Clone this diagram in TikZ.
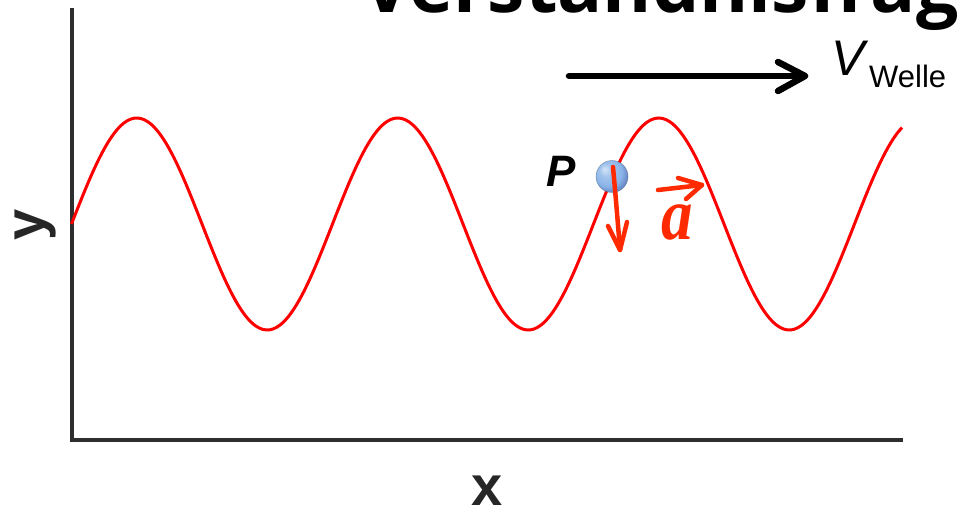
\documentclass[tikz,border=0pt]{standalone}
\usepackage{fontspec}
\setmainfont{Liberation Sans}
\newfontfamily\titlefont{Open Sans}
\newfontfamily\handfont{Liberation Serif}
\usetikzlibrary{calc}
\definecolor{axisgray}{HTML}{2E2E2E}
\definecolor{labelgray}{HTML}{262626}
\definecolor{handred}{HTML}{FF2A00}
\definecolor{balllight}{HTML}{8AB4E8}
\pgfdeclareradialshading{pball}{\pgfpoint{-12bp}{12bp}}{%
  color(0bp)=(balllight!35!white); color(10bp)=(balllight!80!white);
  color(22bp)=(balllight); color(32bp)=(balllight!85!blue!80!black);
  color(50bp)=(balllight!60!black)}
\tikzset{
  axisline/.style={draw=axisgray, line width=4pt},
  wave/.style={draw=red, line width=3pt},
  hand/.style={draw=handred, line width=4.5pt, line cap=round, line join=round},
  bigarrow/.style={draw=black, line width=6.5pt, line cap=round, line join=round},
  axislabel/.style={font=\fontsize{56}{56}\selectfont\bfseries, text=labelgray, inner sep=0pt},
}
\begin{document}
\begin{tikzpicture}[x=1pt, y=-1pt]
\useasboundingbox (0,0) rectangle (958,513);
% title, cut off at the top
\begin{scope}
  \clip (0,0) rectangle (958,513);
  \node[anchor=base west, inner sep=0pt, font=\titlefont\fontsize{75}{75}\selectfont\bfseries] (title) at (362,13) {Verständnisfrage};
\end{scope}
% axes
\coordinate (ytop) at (71.5,8);
\coordinate (origin) at (71.5,439.5);
\coordinate (xend) at (903,439.5);
\draw[axisline] (ytop) -- (origin) -- (xend);
\node[axislabel, anchor=base] (xlab) at (487,505) {x};
\node[axislabel, anchor=base, rotate=90] (ylab) at (44,225) {y};
% wave
\draw[wave] plot[domain=0:830.5, samples=240, smooth] ({\x+71.5}, {224-106*sin(1.37931*\x)});
% wave velocity
\coordinate (vs) at (569,76);
\coordinate (ve) at (805,76);
\draw[bigarrow] (vs) -- (ve);
\draw[bigarrow] ($(ve)+(-27,-14)$) -- (ve) -- ($(ve)+(-27,15)$);
\node[anchor=base west, inner sep=0pt, font=\fontsize{50}{50}\selectfont\itshape] (V) at (831,76) {V};
\node[anchor=base west, inner sep=0pt, font=\fontsize{31}{31}\selectfont] (welle) at (869,88) {Welle};
% point P
\node[anchor=base west, inner sep=0pt, font=\fontsize{44}{44}\selectfont\bfseries\itshape] (Plab) at (546,186) {P};
\coordinate (P) at (612,176.5);
\shade[shading=pball] (P) circle (16);
\draw[draw=balllight!55!black, opacity=0.5, line width=0.6pt] (P) circle (16);
% handwritten velocity of P
\coordinate (ds) at (613,167);
\coordinate (de) at (620,250);
\draw[hand] (ds) .. controls (616,200) and (618,225) .. (de);
\draw[hand] (608,226) -- (de) -- (627,222);
% handwritten acceleration a
\coordinate (as) at (658,190);
\coordinate (ae) at (702,185);
\draw[hand] (as) -- (ae);
\draw[hand] (678,178) -- (ae) -- (686,199);
\node[anchor=base, inner sep=0pt, text=handred, xscale=0.85, font=\handfont\fontsize{74}{74}\selectfont\bfseries\itshape] (alab) at (677,240) {a};
\end{tikzpicture}
\end{document}
